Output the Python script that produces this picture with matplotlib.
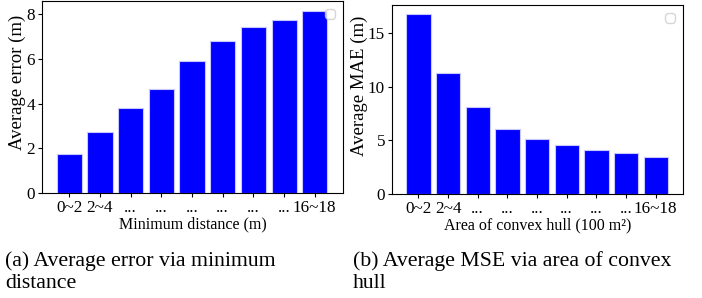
import matplotlib
matplotlib.use("Agg")
import matplotlib.pyplot as plt
import numpy as np

plt.rcParams['font.family'] = ['Liberation Serif', 'DejaVu Serif']
plt.rcParams['font.size'] = 11.5

# data
labels = ['0~2', '2~4', '...', '...', '...', '...', '...', '...', '16~18']
avg_error = [1.74, 2.73, 3.82, 4.67, 5.90, 6.83, 7.43, 7.73, 8.15]
avg_mae = [16.8, 11.25, 8.14, 6.09, 5.12, 4.59, 4.14, 3.82, 3.45]

fig = plt.figure(figsize=(7.02, 2.98), dpi=100)
ax1 = fig.add_axes([42 / 702, 105 / 298, 301 / 702, 192 / 298])
ax2 = fig.add_axes([392 / 702, 104 / 298, 291 / 702, 189 / 298])

x = np.arange(len(labels))
for ax, vals, ylab, xlab in [
    (ax1, avg_error, 'Average error (m)', 'Minimum distance (m)'),
    (ax2, avg_mae, 'Average MAE (m)', 'Area of convex hull (100 m\u00b2)'),
]:
    ax.bar(x, vals, width=0.82, color='#0000ff', edgecolor='#c8c8ff', linewidth=0.8)
    ax.set_xticks(x)
    ax.set_xticklabels(labels)
    ax.set_ylabel(ylab, fontsize=13.5, labelpad=0)
    ax.yaxis.label.set_y(0.575)
    ax.set_xlabel(xlab, labelpad=0)
    ax.set_xlim(-0.89, 8.92)
    ax.tick_params(length=3, pad=2, labelsize=12.3)
    ax.legend(handles=[], loc='upper right', borderpad=0.3)

ax1.set_ylim(0, 8.6)
ax1.set_yticks([0, 2, 4, 6, 8])
ax2.set_ylim(0, 17.6)
ax2.set_yticks([0, 5, 10, 15])

fig.text(5 / 702, 1 - 261 / 298, '(a) Average error via minimum', fontsize=15.7, va='center')
fig.text(5 / 702, 1 - 284 / 298, 'distance', fontsize=15.7, va='center')
fig.text(353 / 702, 1 - 261 / 298, '(b) Average MSE via area of convex', fontsize=15.7, va='center')
fig.text(353 / 702, 1 - 284 / 298, 'hull', fontsize=15.7, va='center')

fig.savefig('out.png', dpi=100)
